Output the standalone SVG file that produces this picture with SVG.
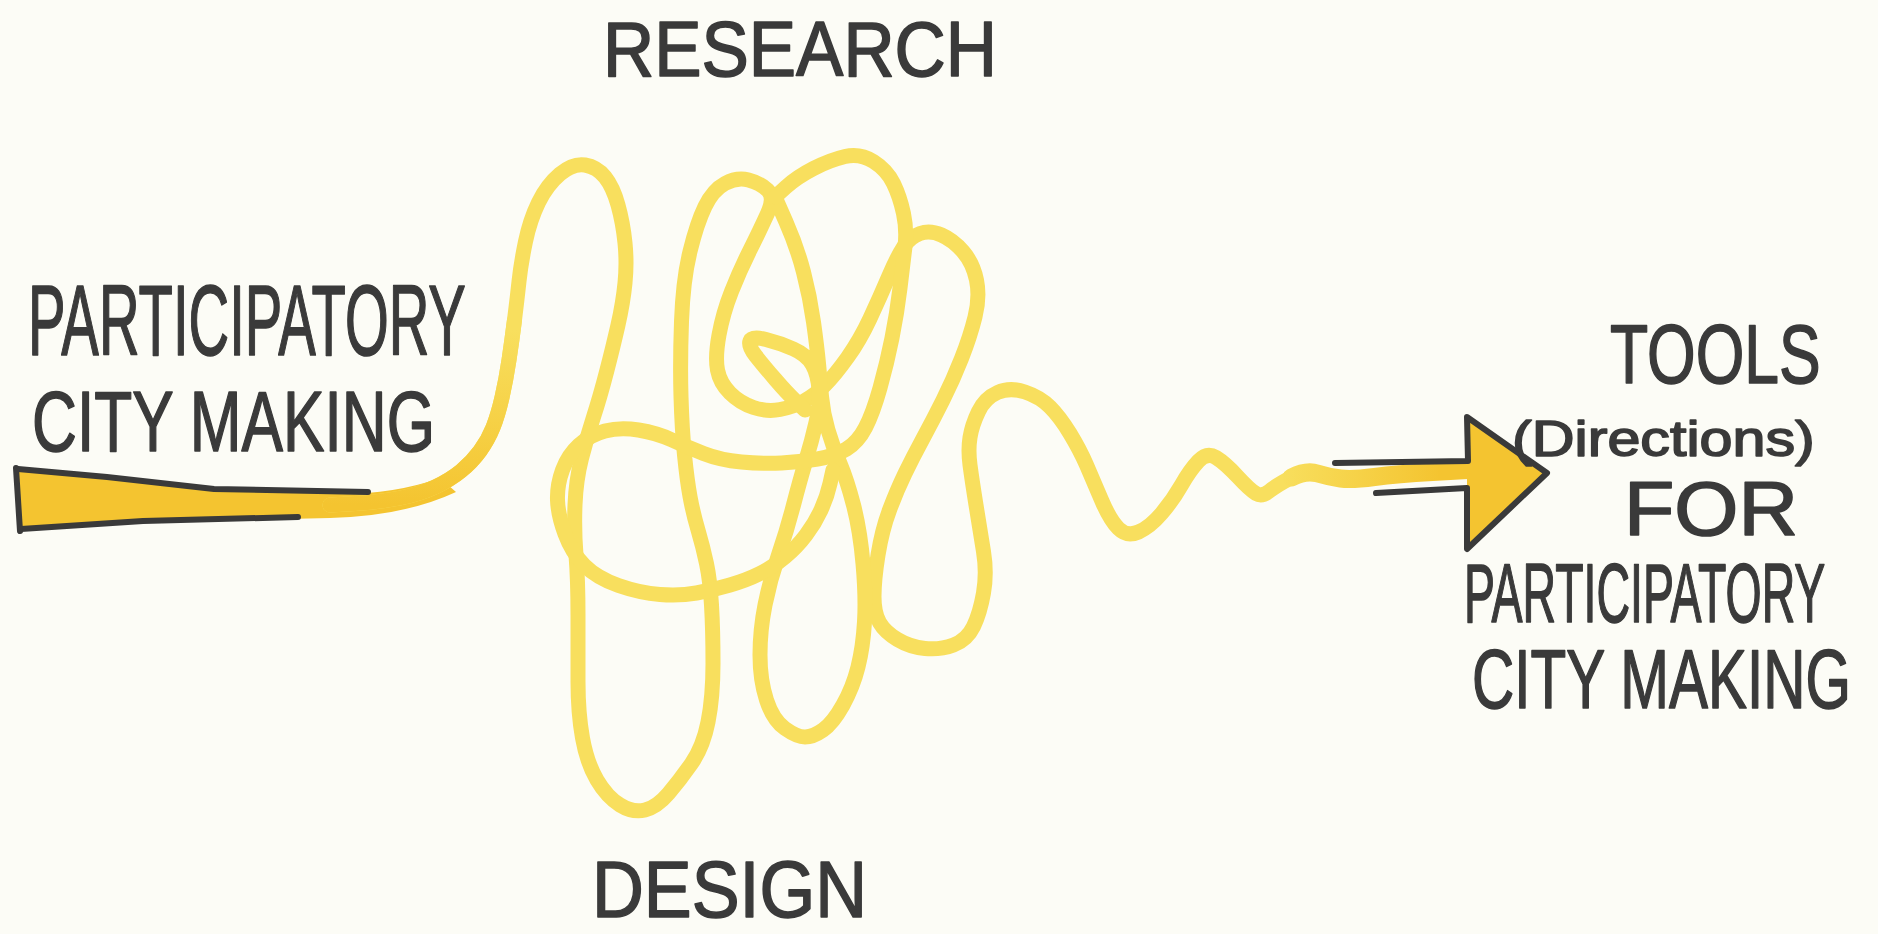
<svg xmlns="http://www.w3.org/2000/svg" width="1878" height="934" viewBox="0 0 1878 934">
  <defs>
    <linearGradient id="riseGrad" gradientUnits="userSpaceOnUse" x1="0" y1="505" x2="0" y2="330">
      <stop offset="0" stop-color="#F4C430"/>
      <stop offset="1" stop-color="#F8DF5E"/>
    </linearGradient>
    <linearGradient id="endGrad" gradientUnits="userSpaceOnUse" x1="1280" y1="0" x2="1440" y2="0">
      <stop offset="0" stop-color="#F8DF5E"/>
      <stop offset="1" stop-color="#F4C430"/>
    </linearGradient>
    <style>
      .yl { fill: none; stroke: #F8DF5E; stroke-width: 15; stroke-linecap: round; stroke-linejoin: round; }
      .ink { fill: none; stroke: #3a3a3a; stroke-width: 6; stroke-linecap: round; stroke-linejoin: round; }
      .hw { font-family: "Liberation Sans", "DejaVu Sans", sans-serif; fill: #3a3a3a; stroke: #3a3a3a; stroke-width: 1.6; stroke-linejoin: round; }
    </style>
  </defs>
  <rect width="1878" height="934" fill="#FCFCF6"/>

  <g id="tail">
    <path d="M18,470 L214,488 L340,494 Q395,494 440,478 L456,492 Q405,516 330,518 L143,522 L20,530 Z" fill="#F4C430"/>
  </g>

  <g id="scribble">
    <path class="yl" d="M330,505 L355,503.5 Q380,502 400,498 Q420,494 435,487 Q450,480 461,471 Q472,462 480,451 Q488,440 493,427.5 Q498,415 502,397.5 Q506,380 509,360 Q512,340 514.5,320 Q517,300 519,281.5 Q521,263 525.5,241.5 Q530,220 538.5,202.5 Q547,185 560,174 Q573,163 585,165 Q597,167 605,177 Q613,187 618,205 Q623,223 625,243 Q627,263 625,283 Q623,303 618,325 Q613,347 606.5,372 Q600,397 593.5,417 Q587,437 581.5,458.5 Q576,480 575,505 Q574,530 576,555 Q578,580 578,615 Q578,650 578,681.5 Q578,713 582.5,738 Q587,763 597,780 Q607,797 620,805 Q633,813 645,810 Q657,807 668.5,793.5 Q680,780 691.5,763.5 Q703,747 708,722 Q713,697 713,663.5 Q713,630 711.5,605 Q710,580 706.5,563.5 Q703,547 698,530 Q693,513 690,496.5 Q687,480 684.5,455 Q682,430 681,396.5 Q680,363 681.5,321.5 Q683,280 690,251.5 Q697,223 705,206.5 Q713,190 725,183.5 Q737,177 748.5,180 Q760,183 767.5,190 Q775,197 767.5,213.5 Q760,230 750,250 Q740,270 731.5,291.5 Q723,313 719,335 Q715,357 717.5,370 Q720,383 730,393 Q740,403 753.5,407.5 Q767,412 780,409.5 Q793,407 804,401 Q815,395 825,385 Q835,375 847.5,357.5 Q860,340 870,318.5 Q880,297 888.5,277 Q897,257 903.5,247 Q910,237 920,233.5 Q930,230 941.5,235 Q953,240 963,251.5 Q973,263 976.5,280 Q980,297 975,317 Q970,337 961.5,358.5 Q953,380 943,400 Q933,420 923,438.5 Q913,457 905,473.5 Q897,490 889.5,510 Q882,530 878,555 Q874,580 874,596.5 Q874,613 879.5,622.5 Q885,632 897.5,639.5 Q910,647 925,648.5 Q940,650 953.5,645 Q967,640 973.5,626.5 Q980,613 983.5,593 Q987,573 983.5,551.5 Q980,530 976,505 Q972,480 970,465 Q968,450 970,437.5 Q972,425 978.5,411.5 Q985,398 997.5,392.5 Q1010,387 1025,392 Q1040,397 1050,407 Q1060,417 1070,433.5 Q1080,450 1086.5,465 Q1093,480 1101.5,500 Q1110,520 1118.5,528.5 Q1127,537 1138.5,532 Q1150,527 1161.5,513.5 Q1173,500 1181.5,485 Q1190,470 1198.5,461 Q1207,452 1216,457.5 Q1225,463 1237.5,476.5 Q1250,490 1256,493.5 Q1262,497 1269.5,491 Q1277,485 1291.5,477.5 Q1306,470 1317.5,473.5"/>
    <path class="yl" style="stroke:url(#riseGrad)" d="M330,505 L355,503.5 Q380,502 400,498 Q420,494 435,487 Q450,480 461,471 Q472,462 480,451 Q488,440 493,427.5 Q498,415 502,397.5 Q506,380 509,360 Q512,340 514.5,320"/>
    <path class="yl" d="M775,197 L786,222 Q797,247 803.5,272 Q810,297 813.5,322 Q817,347 818.5,363.5 Q820,380 821.5,396.5 Q823,413 828,430 Q833,447 840,463.5 Q847,480 853.5,505 Q860,530 863,563.5 Q866,597 864.5,622 Q863,647 858,667 Q853,687 843,705 Q833,723 823,730 Q813,737 805,737 Q797,737 785,728.5 Q773,720 766.5,700 Q760,680 760,655 Q760,630 765,605 Q770,580 778.5,555 Q787,530 793.5,505 Q800,480 806,460 Q812,440 816,422.5 Q820,405 819,390 Q818,375 812.5,365 Q807,355 793.5,349 Q780,343 766,339.5 Q752,336 750,341 Q748,346 755.5,355.5 Q763,365 775,379 Q787,393 796,401.5 L805,410"/>
    <path class="yl" d="M775,197 L786,187 Q797,177 813.5,168.5 Q830,160 845,156.5 Q860,153 873.5,161.5 Q887,170 893.5,183.5 Q900,197 903.5,213.5 Q907,230 905,246.5 Q903,263 900,288 Q897,313 892,338 Q887,363 880,388 Q873,413 865.5,427.5 Q858,442 846.5,449 Q835,456 817.5,459 Q800,462 781.5,463 Q763,464 741.5,462 Q720,460 703.5,453.5 Q687,447 672,440 Q657,433 638.5,430 Q620,427 605,431 Q590,435 579,445 Q568,455 562.5,470 Q557,485 557.5,500 Q558,515 565,534 Q572,553 584.5,565.5 Q597,578 618.5,585.5 Q640,593 660,594.5 Q680,596 696.5,593 Q713,590 730,585 Q747,580 760,573.5 Q773,567 785,557 Q797,547 806,535 Q815,523 821,510 Q827,497 830,483.5 L833,470"/>
    <path class="yl" style="stroke:url(#endGrad);stroke-width:18" d="M1291.5,477.5 Q1306,470 1317.5,473.5 Q1329,477 1340.5,478.5 Q1352,480 1374.5,477 Q1397,474 1432.5,472 L1468,470"/>
  </g>

  <g id="arrowhead">
    <path d="M1467,417 L1547,473 L1467,549 Z" fill="#F4C430"/>
    <path class="ink" d="M1335,463 L1468,461 L1467,417 L1547,473 L1467,549 L1467,488 L1376,493"/>
  </g>

  <g id="tail-outline">
    <path class="ink" d="M18,469 L107,477 L214,489 L368,492"/>
    <path class="ink" d="M21,529 L143,521 L298,517"/>
    <path class="ink" d="M16,468 L20,531"/>
  </g>

  <g id="label-research">
    <text class="hw" font-size="77" transform="translate(603,76) scale(0.921,1)">RESEARCH</text>
  </g>
  <g id="label-design">
    <text class="hw" font-size="80" transform="translate(592,917) scale(0.897,1)">DESIGN</text>
  </g>
  <g id="label-start">
    <text class="hw" font-size="100" transform="translate(28,355) scale(0.563,1)">PARTICIPATORY</text>
    <text class="hw" font-size="86" transform="translate(32,451) scale(0.723,1)">CITY MAKING</text>
  </g>
  <g id="label-end">
    <text class="hw" font-size="84" transform="translate(1610,383) scale(0.744,1)">TOOLS</text>
    <text class="hw" font-size="50" transform="translate(1512,456) scale(1.185,1)">(Directions)</text>
    <text class="hw" font-size="76" transform="translate(1624,535) scale(1.085,1)">FOR</text>
    <text class="hw" font-size="84" transform="translate(1464,622) scale(0.553,1)">PARTICIPATORY</text>
    <text class="hw" font-size="84" transform="translate(1472,708) scale(0.696,1)">CITY MAKING</text>
  </g>
</svg>
